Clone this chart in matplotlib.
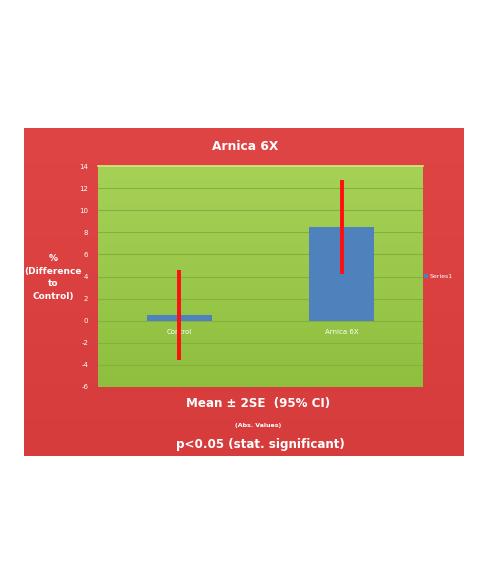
import numpy as np
import matplotlib
matplotlib.use("Agg")
import matplotlib.pyplot as plt

plt.rcParams["axes.unicode_minus"] = False

categories = ["Control", "Arnica 6X"]
means = [0.5, 8.5]
err = [4.05, 4.25]
yticks = [-6, -4, -2, 0, 2, 4, 6, 8, 10, 12, 14]
series_name = "Series1"

fig = plt.figure(figsize=(4.86, 5.85), dpi=100)
fig.patch.set_facecolor("white")

# red slide panel with a faint shine
panel = fig.add_axes([0.0494, 0.2205, 0.9053, 0.5607], zorder=0)
grad = np.linspace(0, 1, 256).reshape(-1, 1)
panel.imshow(grad, aspect="auto", cmap=matplotlib.colors.LinearSegmentedColormap.from_list(
    "r", ["#e04545", "#d63c3c"]), extent=[0, 1, 0, 1])
panel.set_xlim(0, 1)
panel.set_ylim(0, 1)
panel.axis("off")

ax = fig.add_axes([0.2016, 0.3385, 0.6687, 0.3777], zorder=1)
ax.set_facecolor("#9cc84a")
g = np.linspace(0, 1, 256).reshape(-1, 1)
ax.imshow(g, aspect="auto", extent=[-0.5, 1.5, -6, 14], origin="lower", zorder=0,
          cmap=matplotlib.colors.LinearSegmentedColormap.from_list("g", ["#8fbf3e", "#a6d157"]))

x = np.arange(len(categories))
ax.bar(x, means, width=0.4, color="#4f81bd", zorder=3, label=series_name)
ax.errorbar(x, means, yerr=err, fmt="none", ecolor="#ff1010", elinewidth=2.8,
            capsize=0, zorder=4)

ax.set_xlim(-0.5, 1.5)
ax.set_ylim(-6, 14)
ax.set_yticks(yticks)
ax.yaxis.grid(True, color="#85b040", linewidth=0.8, zorder=1)
ax.set_axisbelow(True)
ax.tick_params(axis="y", length=0, labelsize=5, labelcolor="white", pad=7)
ax.set_xticks(x)
ax.set_xticklabels(categories)
ax.spines["bottom"].set_position(("data", 0))
ax.tick_params(axis="x", length=0, labelsize=5, labelcolor="white", pad=6)
for s in ["top", "right", "left", "bottom"]:
    ax.spines[s].set_visible(False)
ax.spines["top"].set_visible(True)
ax.spines["top"].set_color("#d8f080")
ax.spines["top"].set_linewidth(1.2)

leg = ax.legend(loc="center left", bbox_to_anchor=(0.995, 0.5), frameon=False,
                fontsize=4.5, handlelength=0.6, handleheight=0.6, handletextpad=0.3,
                borderaxespad=0)
for t in leg.get_texts():
    t.set_color("white")

fig.text(0.504, 0.749, "Arnica 6X", color="white", fontsize=8.8, fontweight="bold",
         ha="center", va="center")
fig.text(0.109, 0.526, "%\n(Difference\nto\nControl)", color="white", fontsize=6.5,
         fontweight="bold", ha="center", va="center", linespacing=1.5)
fig.text(0.531, 0.311, "Mean \u00b1 2SE  (95% CI)", color="white", fontsize=8.6,
         fontweight="bold", ha="center", va="center")
fig.text(0.531, 0.272, "(Abs. Values)", color="white", fontsize=4.5,
         fontweight="bold", ha="center", va="center")
fig.text(0.535, 0.241, "p<0.05 (stat. significant)", color="white", fontsize=8.6,
         fontweight="bold", ha="center", va="center")

fig.savefig("out.png", dpi=100)
